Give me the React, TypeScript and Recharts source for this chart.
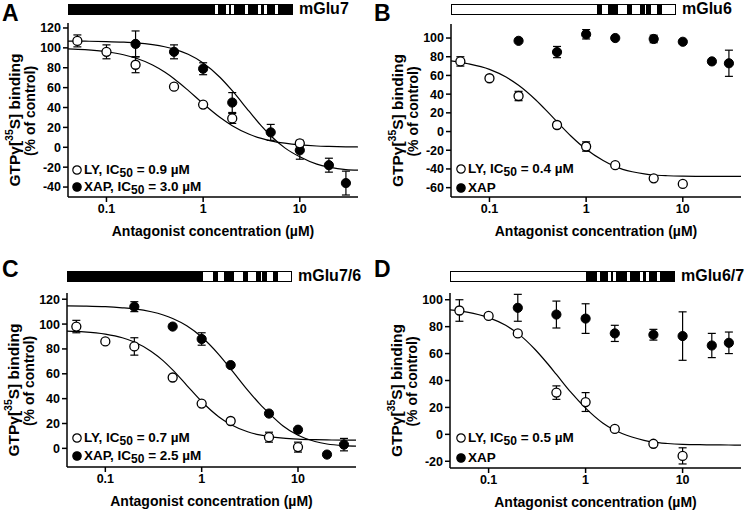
import React from 'react';
import { ComposedChart, Line, Scatter, XAxis, YAxis, ErrorBar } from 'recharts';

// shared x values
const fitX = [0.04, 0.06, 0.1, 0.15, 0.2, 0.3, 0.4, 0.5, 0.7, 1, 1.5, 2, 3, 4, 5, 7, 10, 15, 20, 30, 40];
const xTicks = [0.1, 1, 10];

// A - mGlu7
const aLyX = [0.05, 0.1, 0.2, 0.5, 1, 2, 10];
const aLyY = [107, 96, 83, 61, 43, 29, 4];
const aLyErr = [6, 7, 8, 0, 0, 5, 3];
const aXapX = [0.2, 0.5, 1, 2, 5, 10, 20, 30];
const aXapY = [104, 96, 79, 45, 15, -3, -18, -36];
const aXapErr = [13, 7, 6, 10, 8, 9, 7, 12];
const aLyFit = [99, 98.2, 96.1, 93.1, 89.8, 82.7, 75.6, 68.9, 57.2, 43.9, 29.9, 21.7, 13.1, 8.9, 6.5, 4.1, 2.4, 1.3, 0.9, 0.5, 0.3];
const aXapFit = [106.8, 106.7, 106.3, 105.7, 105, 103.2, 101.1, 98.8, 93.5, 84.8, 70.2, 56.9, 36, 21.5, 11.6, -0.6, -9.6, -17, -20, -22.5, -23];

// B - mGlu6
const bLyX = [0.05, 0.1, 0.2, 0.5, 1, 2, 5, 10];
const bLyY = [75, 57, 38, 7, -16, -36, -50, -56];
const bLyErr = [5, 0, 5, 3, 5, 0, 0, 0];
const bXapX = [0.2, 0.5, 1, 2, 5, 10, 20, 30];
const bXapY = [97, 85, 104, 100, 99, 96, 75, 73];
const bXapErr = [0, 6, 5, 0, 4, 0, 0, 14];
const bLyFit = [75.5, 72.5, 66.5, 58, 49.5, 34, 21, 10.5, -5, -19, -31, -37.5, -43, -45.3, -46.5, -47.3, -47.7, -47.9, -48, -48, -48];

// C - mGlu7/6
const cLyX = [0.05, 0.1, 0.2, 0.5, 1, 2, 5, 10];
const cLyY = [98, 86, 82, 57, 36, 22, 9, 1];
const cLyErr = [5, 0, 7, 0, 0, 0, 4, 4];
const cXapX = [0.2, 0.5, 1, 2, 5, 10, 20, 30];
const cXapY = [114, 98, 88, 67, 28, 15, -5, 3];
const cXapErr = [4, 0, 5, 0, 0, 0, 0, 5];
const cLyFit = [94.3, 93.7, 91.9, 89, 85.6, 78, 70.4, 63.1, 50.75, 37.7, 25.5, 19.2, 13.4, 10.85, 9.5, 8.2, 7.45, 7, 6.8, 6.65, 6.6];
const cXapFit = [114.7, 114.5, 114, 113.1, 112.2, 109.9, 107.3, 104.5, 98.6, 89.6, 75.7, 64, 46.9, 35.8, 28.3, 18, 10.5, 5.5, 3.5, 2.2, 1.8];

// D - mGlu6/7
const dLyX = [0.05, 0.1, 0.2, 0.5, 1, 2, 5, 10];
const dLyY = [92, 88, 75, 31, 24, 4, -7, -16];
const dLyErr = [8, 0, 0, 5, 7, 0, 0, 6];
const dXapX = [0.2, 0.5, 1, 2, 5, 10, 20, 30];
const dXapY = [94, 89, 86, 75, 74, 73, 66, 68];
const dXapErr = [10, 10, 11, 6, 4, 18, 9, 8];
const dLyFit = [92.5, 90.8, 86.7, 81, 75, 63.2, 53, 44.5, 31.5, 19.5, 8.5, 3, -2, -4.5, -5.8, -6.8, -7.4, -7.7, -7.8, -7.9, -8];

const FONT = '"Liberation Sans", Arial, Helvetica, sans-serif';
const TM_OFFSETS = [145, 156, 161, 175, 188, 194, 205];

const pts = (xs: number[], ys: number[], errs: number[]) => xs.map((x, i) => ({ x, y: ys[i], err: errs[i] }));
const fit = (ys: number[]) => fitX.map((x, i) => ({ x, y: ys[i] }));

const openDot = (p: any) => <circle cx={p.cx} cy={p.cy} r={4.5} fill="#fff" stroke="#000" strokeWidth={1.3} />;
const filledDot = (p: any) => <circle cx={p.cx} cy={p.cy} r={4.6} fill="#000" stroke="#000" strokeWidth={1} />;

const YTitle = ({ viewBox }: any) => {
  const right = viewBox.x + viewBox.width;
  const cy = viewBox.y + viewBox.height / 2;
  const x1 = right - 54;
  const x2 = right - 38;
  const y1 = cy + 10;
  const y2 = cy + 1;
  const st = { fontFamily: FONT, fontWeight: 700, fill: '#000' };
  return (
    <g>
      <text x={x1} y={y1} transform={`rotate(-90, ${x1}, ${y1})`} textAnchor="middle" dominantBaseline="central" fontSize={15.5} {...st}>
        GTPγ[<tspan dy={-5} fontSize={10.5}>35</tspan><tspan dy={5}>S] binding</tspan>
      </text>
      <text x={x2} y={y2} transform={`rotate(-90, ${x2}, ${y2})`} textAnchor="middle" dominantBaseline="central" fontSize={14} {...st}>
        (% of control)
      </text>
    </g>
  );
};

const XTitle = ({ viewBox }: any) => (
  <text x={viewBox.x + viewBox.width / 2} y={viewBox.y + 39} textAnchor="middle" fontFamily={FONT} fontWeight={700} fontSize={14} fill="#000">
    Antagonist concentration (µM)
  </text>
);

type PanelProps = {
  left: number; top: number;
  margin: { top: number; right: number; bottom: number; left: number };
  xHeight: number; yWidth: number; yDomain: [number, number]; yTicks: number[];
  ly: any[]; xap: any[]; lyFit: any[]; xapFit?: any[];
};

function Panel({ left, top, margin, xHeight, yWidth, yDomain, yTicks, ly, xap, lyFit, xapFit }: PanelProps) {
  const tick = { fill: '#000', fontSize: 12.5, fontWeight: 700, fontFamily: FONT };
  const axisLine = { stroke: '#000', strokeWidth: 1.5 };
  return (
    <div style={{ position: 'absolute', left, top }}>
      <ComposedChart width={373} height={256} margin={margin}>
        <XAxis dataKey="x" type="number" scale="log" domain={[0.04, 40]} allowDataOverflow ticks={xTicks} height={xHeight}
          tickFormatter={(v: number) => String(v)} tick={tick} axisLine={axisLine} tickLine={axisLine} tickSize={5}
          label={<XTitle />} />
        <YAxis type="number" domain={yDomain} allowDataOverflow ticks={yTicks} width={yWidth} interval={0}
          tick={tick} axisLine={axisLine} tickLine={axisLine} tickSize={5} label={<YTitle />} />
        <Line data={lyFit} dataKey="y" type="monotone" stroke="#000" strokeWidth={1.2} dot={false} isAnimationActive={false} />
        {xapFit && <Line data={xapFit} dataKey="y" type="monotone" stroke="#000" strokeWidth={1.2} dot={false} isAnimationActive={false} />}
        <Scatter data={xap} dataKey="y" shape={filledDot} isAnimationActive={false}>
          <ErrorBar dataKey="err" direction="y" width={4} stroke="#000" strokeWidth={1.2} />
        </Scatter>
        <Scatter data={ly} dataKey="y" shape={openDot} isAnimationActive={false}>
          <ErrorBar dataKey="err" direction="y" width={4} stroke="#000" strokeWidth={1.2} />
        </Scatter>
      </ComposedChart>
    </div>
  );
}

function Receptor({ left, top, base, split, label }: { left: number; top: number; base: 'black' | 'white'; split?: boolean; label: string }) {
  // base: colour of the N-terminal part; the TM region is the opposite colour when split
  const tmRegion = split ? (base === 'black' ? '#fff' : '#000') : (base === 'black' ? '#000' : '#fff');
  const tmBox = tmRegion === '#000' ? '#fff' : '#000';
  const nColor = base === 'black' ? '#000' : '#fff';
  return (
    <>
      <div style={{ position: 'absolute', left, top, width: 225, height: 11, boxSizing: 'border-box', border: '1px solid #000', background: tmRegion, overflow: 'hidden' }}>
        <div style={{ position: 'absolute', left: 0, top: 0, width: split ? 135 : 225, height: 9, background: nColor }} />
        {TM_OFFSETS.map((o) => (
          <div key={o} style={{ position: 'absolute', left: o, top: -1, width: 5, height: 11, boxSizing: 'border-box', border: '1px solid #000', background: tmBox }} />
        ))}
      </div>
      <div style={{ position: 'absolute', left: left + 231, top: top - 3, fontFamily: FONT, fontWeight: 700, fontSize: 16, lineHeight: '16px', whiteSpace: 'nowrap' }}>{label}</div>
    </>
  );
}

function LegendRow({ cx, cy, filled, children }: { cx: number; cy: number; filled: boolean; children: React.ReactNode }) {
  return (
    <div style={{ position: 'absolute', left: cx - 5, top: cy - 8, height: 16, display: 'flex', alignItems: 'center', fontFamily: FONT, fontWeight: 700, fontSize: 13.5, lineHeight: '16px', whiteSpace: 'nowrap' }}>
      <svg width={10} height={10} style={{ marginRight: 2 }}>
        <circle cx={5} cy={5} r={4.2} fill={filled ? '#000' : '#fff'} stroke="#000" strokeWidth={1.2} />
      </svg>
      <span>{children}</span>
    </div>
  );
}

const IC = ({ v }: { v: string }) => (
  <>, IC<span style={{ fontSize: 12, position: 'relative', top: 3 }}>50</span> = {v} µM</>
);

const Letter = ({ left, top, ch }: { left: number; top: number; ch: string }) => (
  <div style={{ position: 'absolute', left, top, fontFamily: FONT, fontWeight: 700, fontSize: 23, lineHeight: '23px' }}>{ch}</div>
);

export default function App() {
  return (
    <div style={{ position: 'absolute', left: 0, top: 0, width: 745, height: 512, background: '#fff', overflow: 'hidden' }}>
      <Panel left={0} top={0} margin={{ top: 23, right: 15, bottom: 0, left: 0 }} xHeight={59} yWidth={68}
        yDomain={[-50, 125]} yTicks={[-40, -20, 0, 20, 40, 60, 80, 100, 120]}
        ly={pts(aLyX, aLyY, aLyErr)} xap={pts(aXapX, aXapY, aXapErr)} lyFit={fit(aLyFit)} xapFit={fit(aXapFit)} />
      <Panel left={372} top={0} margin={{ top: 24, right: 4, bottom: 0, left: 0 }} xHeight={59} yWidth={79}
        yDomain={[-70, 115]} yTicks={[-60, -40, -20, 0, 20, 40, 60, 80, 100]}
        ly={pts(bLyX, bLyY, bLyErr)} xap={pts(bXapX, bXapY, bXapErr)} lyFit={fit(bLyFit)} />
      <Panel left={0} top={256} margin={{ top: 37, right: 17, bottom: 0, left: 0 }} xHeight={45} yWidth={67}
        yDomain={[-15, 125]} yTicks={[0, 20, 40, 60, 80, 100, 120]}
        ly={pts(cLyX, cLyY, cLyErr)} xap={pts(cXapX, cXapY, cXapErr)} lyFit={fit(cLyFit)} xapFit={fit(cXapFit)} />
      <Panel left={372} top={256} margin={{ top: 37, right: 4, bottom: 0, left: 0 }} xHeight={44} yWidth={78}
        yDomain={[-25, 105]} yTicks={[-20, 0, 20, 40, 60, 80, 100]}
        ly={pts(dLyX, dLyY, dLyErr)} xap={pts(dXapX, dXapY, dXapErr)} lyFit={fit(dLyFit)} />

      <Letter left={2} top={2} ch="A" />
      <Letter left={374} top={2} ch="B" />
      <Letter left={2} top={258} ch="C" />
      <Letter left={374} top={258} ch="D" />

      <Receptor left={68} top={4} base="black" label="mGlu7" />
      <Receptor left={451} top={4} base="white" label="mGlu6" />
      <Receptor left={67} top={271} base="black" split label="mGlu7/6" />
      <Receptor left={450} top={271} base="white" split label="mGlu6/7" />

      <LegendRow cx={77} cy={170} filled={false}>LY<IC v="0.9" /></LegendRow>
      <LegendRow cx={77} cy={187} filled>XAP<IC v="3.0" /></LegendRow>
      <LegendRow cx={461} cy={169} filled={false}>LY<IC v="0.4" /></LegendRow>
      <LegendRow cx={461} cy={188} filled>XAP</LegendRow>
      <LegendRow cx={77} cy={438} filled={false}>LY<IC v="0.7" /></LegendRow>
      <LegendRow cx={77} cy={456} filled>XAP<IC v="2.5" /></LegendRow>
      <LegendRow cx={461} cy={438} filled={false}>LY<IC v="0.5" /></LegendRow>
      <LegendRow cx={461} cy={458} filled>XAP</LegendRow>
    </div>
  );
}
